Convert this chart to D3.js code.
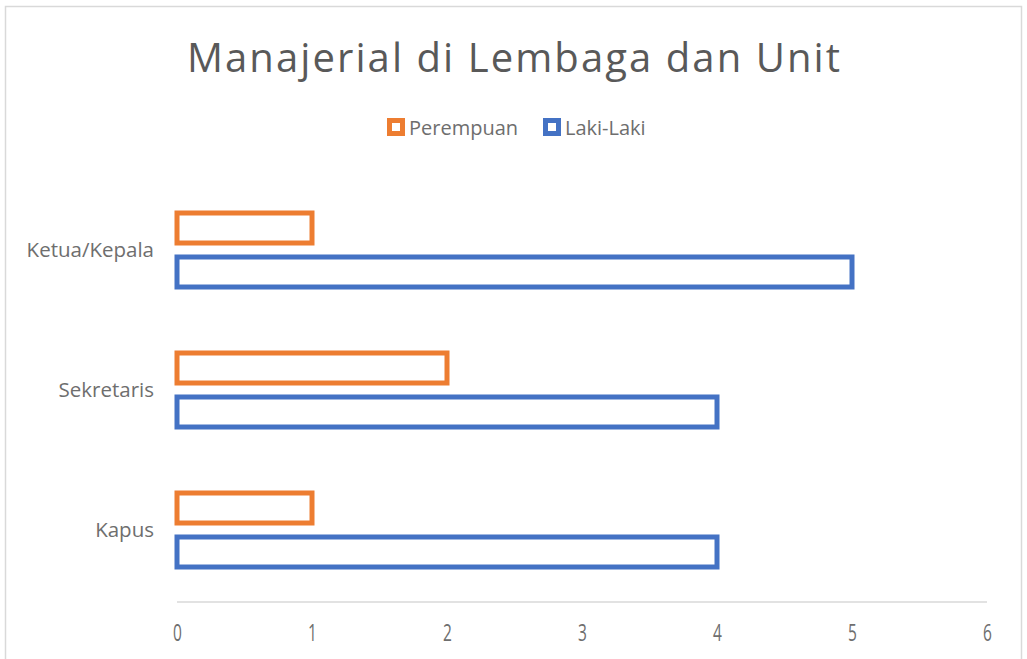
<!DOCTYPE html>
<html>
<head>
<meta charset="utf-8">
<script src="https://cdn.jsdelivr.net/npm/d3@7"></script>
<style>
  html, body { margin: 0; padding: 0; background: #fff; }
  svg { display: block; font-family: "Open Sans", "Noto Sans", sans-serif; }
</style>
</head>
<body>
<svg id="chart" width="1027" height="659"></svg>
<script>
const title = "Manajerial di Lembaga dan Unit";
const categories = ["Ketua/Kepala", "Sekretaris", "Kapus"];
const seriesNames = ["Perempuan", "Laki-Laki"];
const perempuan = [1, 2, 1];
const lakiLaki = [5, 4, 4];
const xTicks = [0, 1, 2, 3, 4, 5, 6];
const colors = ["#ED7D31", "#4472C4"];

const svg = d3.select("#chart");
const labelColor = "#6e6e6e";

// outer frame
svg.append("rect")
  .attr("x", 5.5).attr("y", 6.5)
  .attr("width", 1016).attr("height", 670)
  .attr("fill", "#fff").attr("stroke", "#d9d9d9").attr("stroke-width", 1.5);

// title
svg.append("text")
  .attr("x", 513.5).attr("y", 72)
  .attr("text-anchor", "middle")
  .attr("font-size", 40)
  .attr("fill", "#595959")
  .attr("textLength", 653)
  .attr("lengthAdjust", "spacing")
  .text(title);

const x = d3.scaleLinear().domain([0, 6]).range([177, 987]);
const y = d3.scaleBand().domain(categories).range([180, 600]).paddingInner(0).paddingOuter(0);
const ySub = d3.scaleBand().domain(seriesNames).range([-37, 37]).paddingInner(0.318).paddingOuter(0);

const seriesData = [perempuan, lakiLaki];

// axis line
svg.append("line")
  .attr("x1", x(0)).attr("x2", x(6))
  .attr("y1", 602).attr("y2", 602)
  .attr("stroke", "#d9d9d9").attr("stroke-width", 1.5);

// x tick labels via axis
const xAxis = d3.axisBottom(x).tickValues(xTicks).tickFormat(d3.format("d")).tickSize(0).tickPadding(0);
const gx = svg.append("g").attr("transform", "translate(0,641)").call(xAxis);
gx.select(".domain").remove();
gx.selectAll("text")
  .attr("dy", null)
  .attr("y", 0)
  .attr("font-size", 23.5)
  .attr("fill", labelColor)
  .attr("font-family", "'Open Sans', sans-serif")
  .attr("transform", "scale(0.66,1)");

// y category labels via axis
const yAxis = d3.axisLeft(y).tickSize(0).tickPadding(0);
const gy = svg.append("g").attr("transform", "translate(154,0)").call(yAxis);
gy.select(".domain").remove();
gy.selectAll("text")
  .attr("font-size", 20.5)
  .attr("fill", labelColor)
  .attr("font-family", "'Open Sans', sans-serif");

// bars
seriesNames.forEach((s, si) => {
  svg.append("g").selectAll("rect")
    .data(categories.map((c, i) => ({ c, v: seriesData[si][i] })))
    .join("rect")
    .attr("x", x(0))
    .attr("y", d => y(d.c) + y.bandwidth() / 2 + ySub(s))
    .attr("width", d => x(d.v) - x(0))
    .attr("height", ySub.bandwidth())
    .attr("fill", "#fff")
    .attr("stroke", colors[si])
    .attr("stroke-width", 5);
});

// legend
const legendItems = [
  { name: seriesNames[0], color: colors[0], x: 387 },
  { name: seriesNames[1], color: colors[1], x: 543 }
];
legendItems.forEach(it => {
  svg.append("rect")
    .attr("x", it.x + 2.5).attr("y", 120.5)
    .attr("width", 13).attr("height", 13)
    .attr("fill", "#fff").attr("stroke", it.color).attr("stroke-width", 5);
  svg.append("text")
    .attr("x", it.x + 22).attr("y", 135)
    .attr("font-size", 20)
    .attr("fill", labelColor)
    .text(it.name);
});
</script>
</body>
</html>
